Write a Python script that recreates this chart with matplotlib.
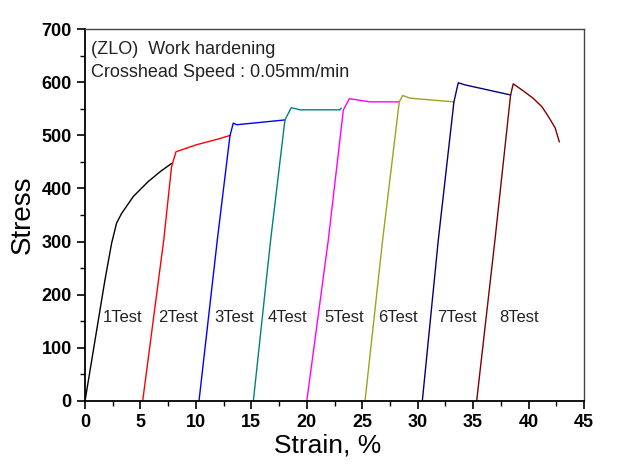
import matplotlib.pyplot as plt

plt.rcParams['font.family'] = ['Liberation Sans', 'DejaVu Sans']

# strain (%) / stress for each loading step
strain1 = [0, 1.2, 1.8, 2.4, 2.85, 3.3, 4.36, 5.7, 6.8, 7.8]
stress1 = [0, 152, 228, 297, 335, 353, 385, 413, 432, 447]
strain2 = [5.2, 7.1, 7.8, 8.2, 10.0, 12.0, 13.1]
stress2 = [0, 303, 440, 469, 482, 493, 500]
strain3 = [10.28, 11.93, 13.07, 13.37, 13.7, 18.03]
stress3 = [0, 303, 499, 523, 520, 529]
strain4 = [15.18, 16.74, 18.03, 18.6, 19.4, 23.0, 23.1]
stress4 = [0, 303, 529, 552, 548, 548, 551]
strain5 = [20.0, 21.94, 23.3, 23.84, 25.7, 28.34]
stress5 = [0, 303, 548, 569, 563, 563]
strain6 = [25.25, 26.84, 28.34, 28.65, 29.3, 33.27]
stress6 = [0, 303, 563, 575, 570, 563]
strain7 = [30.42, 31.86, 33.27, 33.66, 34.26, 38.38]
stress7 = [0, 303, 563, 599, 595, 576]
strain8 = [35.32, 36.97, 38.38, 38.62, 39.5, 40.4, 41.2, 41.8, 42.4, 42.77]
stress8 = [0, 303, 576, 597, 584, 570, 554, 535, 514, 488]

strains = [strain1, strain2, strain3, strain4, strain5, strain6, strain7, strain8]
stresses = [stress1, stress2, stress3, stress4, stress5, stress6, stress7, stress8]
colors = ['black', '#ff0000', '#0000ff', '#008080', '#ff00ff', '#a0a020', '#000080', '#800000']
labels = ['1Test', '2Test', '3Test', '4Test', '5Test', '6Test', '7Test', '8Test']
label_x = [1.6, 6.6, 11.7, 16.5, 21.55, 26.45, 31.77, 37.36]

fig = plt.figure(figsize=(6.26, 4.69), dpi=100)
ax = fig.add_axes([0.1358, 0.145, 0.7971, 0.793])

for x, y, c in zip(strains, stresses, colors):
    ax.plot(x, y, color=c, lw=1.0)

for lx, lab in zip(label_x, labels):
    ax.text(lx, 158, lab, fontsize=12, va='center', ha='left', color='#222222')

ax.text(0.013, 0.968, '(ZLO)  Work hardening', transform=ax.transAxes, fontsize=13, va='top', color='#222222')
ax.text(0.013, 0.905, 'Crosshead Speed : 0.05mm/min', transform=ax.transAxes, fontsize=13, va='top', color='#222222')

ax.set_xlim(0, 45)
ax.set_ylim(0, 700)
ax.set_xticks(range(0, 46, 5))
ax.set_yticks(range(0, 701, 100))
ax.set_xticks([2.5 + 5 * i for i in range(9)], minor=True)
ax.set_yticks([50 + 100 * i for i in range(7)], minor=True)
ax.tick_params(which='major', direction='out', length=6, width=1.2, labelsize=13, top=False, right=False)
ax.tick_params(which='minor', direction='out', length=3.5, width=1.0, top=False, right=False)
for t in ax.get_xticklabels() + ax.get_yticklabels():
    t.set_fontweight('bold')
for s in ['left', 'bottom']:
    ax.spines[s].set_linewidth(1.3)
for s in ['top', 'right']:
    ax.spines[s].set_linewidth(1.0)
    ax.spines[s].set_color('#444444')

ax.set_xlabel('Strain, %', fontsize=19, labelpad=0)
ax.xaxis.set_label_coords(0.486, -0.088, transform=ax.transAxes)
ax.set_ylabel('Stress', fontsize=20, labelpad=4)

fig.savefig('out.png', dpi=100)
